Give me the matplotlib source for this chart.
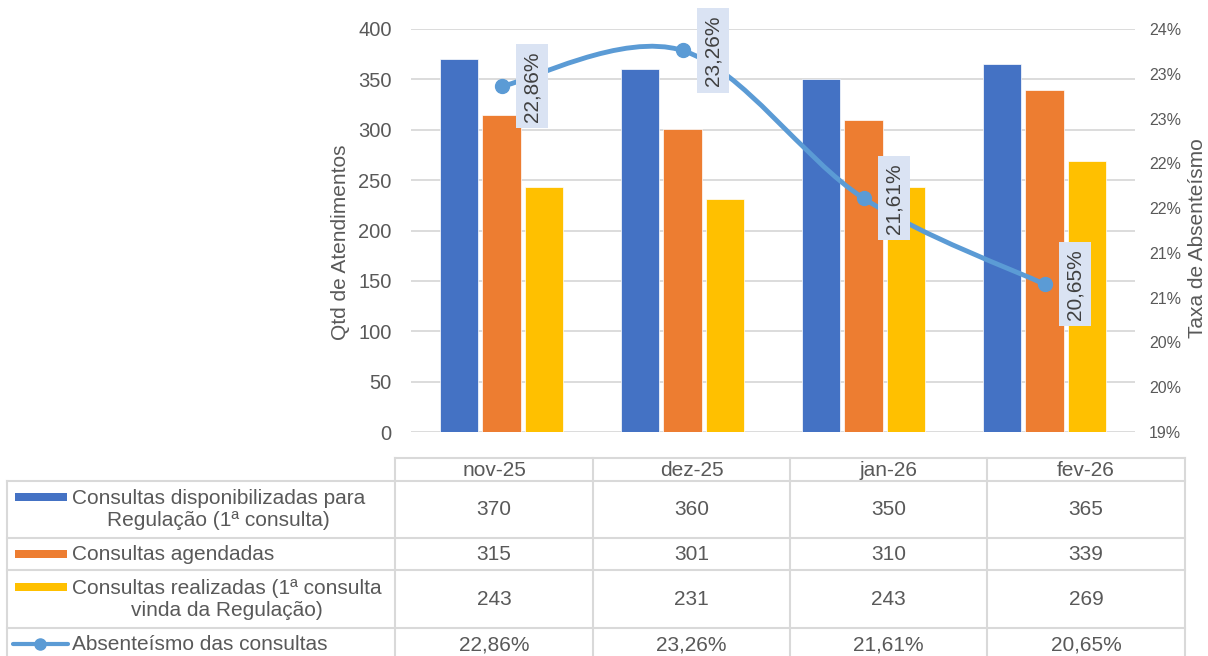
import math
import matplotlib
matplotlib.use("Agg")
import matplotlib.pyplot as plt
from matplotlib.path import Path
from matplotlib.patches import PathPatch, Rectangle
from matplotlib.ticker import FuncFormatter, MultipleLocator
from matplotlib.lines import Line2D

plt.rcParams["font.family"] = ["Liberation Sans", "DejaVu Sans"]

months = ["nov-25", "dez-25", "jan-26", "fev-26"]
disponibilizadas = [370, 360, 350, 365]
agendadas = [315, 301, 310, 339]
realizadas = [243, 231, 243, 269]
absenteismo = [22.86, 23.26, 21.61, 20.65]

series_names = ["Consultas disponibilizadas para\nRegulação (1ª consulta)",
                "Consultas agendadas",
                "Consultas realizadas (1ª consulta\nvinda da Regulação)",
                "Absenteísmo das consultas"]
bar_colors = ["#4472C4", "#ED7D31", "#FFC000"]
line_color = "#5B9BD5"
txt = "#595959"
grid_c = "#D9D9D9"
fs = 15

W, H = 1208, 656
fig = plt.figure(figsize=(W / 100, H / 100), dpi=100)

# plot area in pixels: x 411..1135, y 29..432
ax = fig.add_axes([411 / W, 1 - 432 / H, 724 / W, 403 / H])
x = list(range(len(months)))
bw = 0.21
off = 0.235
for k, (vals, c) in enumerate(zip([disponibilizadas, agendadas, realizadas], bar_colors)):
    ax.bar([i + (k - 1) * off for i in x], vals, width=bw, color=c,
           edgecolor="white", linewidth=0.5, zorder=2)

ax.set_xlim(-0.5, len(months) - 0.5)
ax.set_ylim(0, 400)
ax.yaxis.set_major_locator(MultipleLocator(50))
ax.grid(axis="y", color=grid_c, linewidth=1.3, zorder=0)
ax.set_axisbelow(True)
for s in ax.spines.values():
    s.set_visible(False)
ax.set_xticks([])
ax.tick_params(axis="y", length=0, pad=14, labelsize=14.5, labelcolor=txt)
ax.set_ylabel("Qtd de Atendimentos", fontsize=fs, color=txt)
ax.yaxis.set_label_coords(-0.084, 0.47)

ax2 = ax.twinx()
ax2.set_ylim(19, 23.5)
ax2.yaxis.set_major_locator(MultipleLocator(0.5))
ax2.yaxis.set_major_formatter(FuncFormatter(lambda v, p: f"{int(math.floor(v + 0.5))}%"))
ax2.tick_params(axis="y", length=0, pad=10, labelsize=11.5, labelcolor=txt)
for s in ax2.spines.values():
    s.set_visible(False)
ax2.set_ylabel("Taxa de Absenteísmo", fontsize=fs, color=txt)
ax2.yaxis.set_label_coords(1.073, 0.48)

# smoothed line (Catmull-Rom style Bezier like Excel)
pts = list(zip(x, absenteismo))
verts = [pts[0]]
codes = [Path.MOVETO]
n = len(pts)
for i in range(n - 1):
    p0 = pts[max(i - 1, 0)]
    p1 = pts[i]
    p2 = pts[i + 1]
    p3 = pts[min(i + 2, n - 1)]
    c1 = (p1[0] + (p2[0] - p0[0]) / 6, p1[1] + (p2[1] - p0[1]) / 6)
    c2 = (p2[0] - (p3[0] - p1[0]) / 6, p2[1] - (p3[1] - p1[1]) / 6)
    verts += [c1, c2, p2]
    codes += [Path.CURVE4] * 3
ax2.add_patch(PathPatch(Path(verts, codes), facecolor="none", edgecolor=line_color,
                        linewidth=3.5, capstyle="round", zorder=3))
ax2.plot(x, absenteismo, linestyle="none", marker="o", markersize=10,
         color=line_color, zorder=4)

for i, v in zip(x, absenteismo):
    ax2.annotate(f"{v:.2f}%".replace(".", ","), (i, v), xytext=(22, 0),
                 textcoords="offset points", rotation=90, ha="center", va="center",
                 fontsize=fs, color="#404040", zorder=5,
                 bbox=dict(boxstyle="square,pad=0.33", facecolor="#DAE3F3",
                           edgecolor="none"))

# data table drawn in pixel coordinates
tb = fig.add_axes([0, 0, 1, 1], facecolor="none")
tb.set_xlim(0, W)
tb.set_ylim(H, 0)
tb.axis("off")

col_x = [395, 593, 790, 987, 1185]
row_y = [481, 538, 570, 628, 665]
lw = 1.5
tb.plot([395, 1185], [458, 458], color=grid_c, lw=lw)
for y in row_y[:-1]:
    tb.plot([7, 1185], [y, y], color=grid_c, lw=lw)
tb.plot([7, 7], [481, H], color=grid_c, lw=lw)
for cx in col_x:
    tb.plot([cx, cx], [458, H], color=grid_c, lw=lw)

col_c = [(col_x[j] + col_x[j + 1]) / 2 for j in range(len(months))]
for j, m in enumerate(months):
    tb.text(col_c[j], 470, m, ha="center", va="center", fontsize=fs, color=txt)

row_c = [509.5, 554, 599.5, 645]
first_line = [497, 554, 587, 644]
rows = [[str(v) for v in disponibilizadas], [str(v) for v in agendadas],
        [str(v) for v in realizadas], [f"{v:.2f}%".replace(".", ",") for v in absenteismo]]
for r, vals in enumerate(rows):
    for j, s in enumerate(vals):
        tb.text(col_c[j], row_c[r], s, ha="center", va="center", fontsize=fs, color=txt)
    tb.text(72, row_c[r], series_names[r], ha="left", va="center", multialignment="center",
            fontsize=fs, color=txt, linespacing=1.15)

for r, c in enumerate(bar_colors):
    tb.add_patch(Rectangle((15, first_line[r] - 4), 52, 8, facecolor=c, edgecolor="none"))
tb.add_line(Line2D([13, 68], [first_line[3], first_line[3]], color=line_color, lw=3,
                   solid_capstyle="round"))
tb.plot([40], [first_line[3]], marker="o", markersize=8, color=line_color)

fig.savefig("out.png", dpi=100, facecolor="white")
